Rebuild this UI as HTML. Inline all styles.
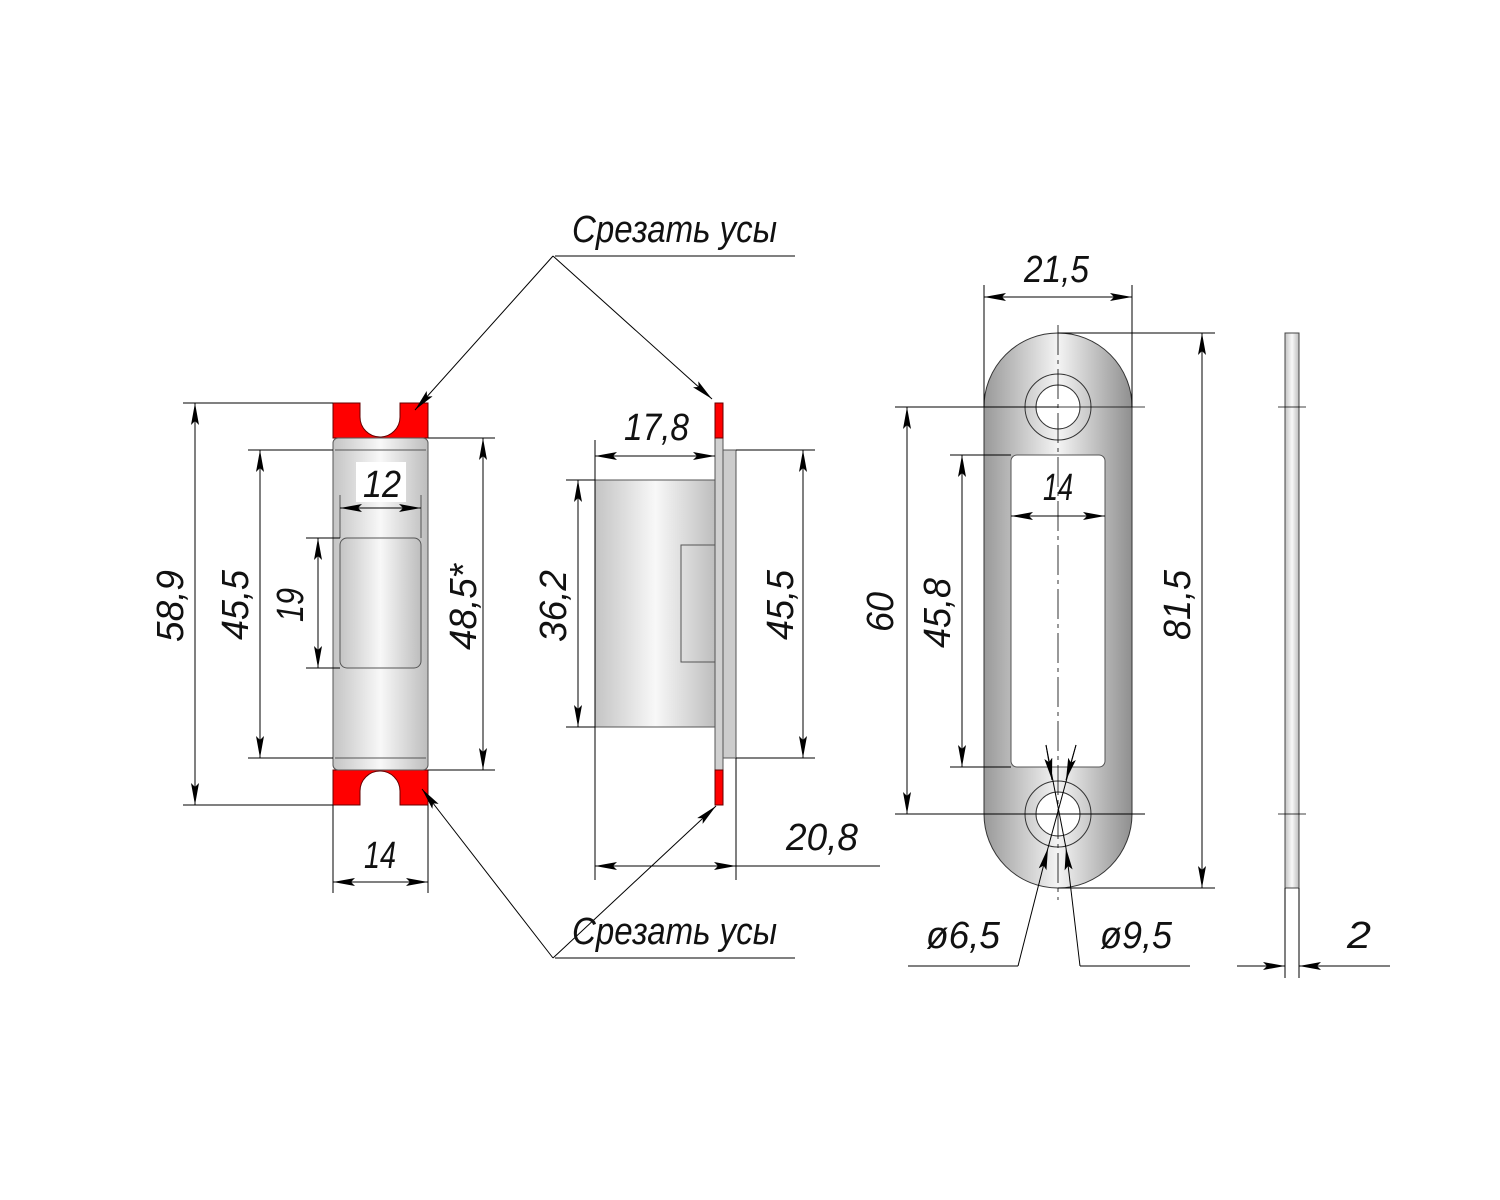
<!DOCTYPE html>
<html><head><meta charset="utf-8"><style>html,body{margin:0;padding:0;background:#fff}svg{display:block}
text{font-family:"Liberation Sans",sans-serif;font-style:italic;font-size:38px;fill:#111}</style></head>
<body>
<svg width="1500" height="1200" viewBox="0 0 1500 1200" xmlns="http://www.w3.org/2000/svg">
<defs>
<marker id="a" viewBox="0 0 22 8" refX="22" refY="4" markerWidth="22" markerHeight="8" markerUnits="userSpaceOnUse" orient="auto-start-reverse"><path d="M0,0 L22,4 L0,8 L4,4 Z" fill="#000"/></marker>
<linearGradient id="g" x1="0" x2="1" y1="0" y2="0"><stop offset="0" stop-color="#c4c4c4"/><stop offset="0.5" stop-color="#f8f8f8"/><stop offset="1" stop-color="#bdbdbd"/></linearGradient>
<linearGradient id="g2" x1="0" x2="1" y1="0" y2="0"><stop offset="0" stop-color="#999"/><stop offset="0.5" stop-color="#f4f4f4"/><stop offset="1" stop-color="#8f8f8f"/></linearGradient>
</defs>
<g stroke="#000" stroke-width="1" fill="none">
<path d="M333,403 H360 V417 A20,20 0 0 0 400,417 V403 H428 V438 H333 Z" fill="#f00" stroke="#600"/>
<path d="M333,805 H360 V791 A20,20 0 0 1 400,791 V805 H428 V770 H333 Z" fill="#f00" stroke="#600"/>
<rect x="333" y="438" width="95" height="332" rx="5" fill="url(#g)" stroke="#555"/>
<line x1="335" y1="450" x2="426" y2="450" stroke="#555"/>
<line x1="335" y1="758" x2="426" y2="758" stroke="#555"/>
<rect x="340" y="538" width="81" height="130" rx="7" fill="url(#g)" stroke="#555"/>
<rect x="356" y="462" width="50" height="40" fill="#fff" stroke="none"/>
<line x1="340" y1="495" x2="340" y2="538" stroke="#555"/><line x1="421" y1="495" x2="421" y2="538" stroke="#555"/>
<line x1="340" y1="508" x2="421" y2="508" marker-start="url(#a)" marker-end="url(#a)"/>
<line x1="183" y1="403" x2="333" y2="403"/><line x1="183" y1="805" x2="333" y2="805"/>
<line x1="195" y1="403" x2="195" y2="805" marker-start="url(#a)" marker-end="url(#a)"/>
<line x1="248" y1="450" x2="333" y2="450"/><line x1="248" y1="758" x2="333" y2="758"/>
<line x1="260" y1="450" x2="260" y2="758" marker-start="url(#a)" marker-end="url(#a)"/>
<line x1="306" y1="538" x2="340" y2="538"/><line x1="306" y1="668" x2="340" y2="668"/>
<line x1="318" y1="538" x2="318" y2="668" marker-start="url(#a)" marker-end="url(#a)"/>
<line x1="428" y1="438" x2="495" y2="438"/><line x1="428" y1="770" x2="495" y2="770"/>
<line x1="483" y1="438" x2="483" y2="770" marker-start="url(#a)" marker-end="url(#a)"/>
<line x1="333" y1="805" x2="333" y2="893"/><line x1="428" y1="805" x2="428" y2="893"/>
<line x1="333" y1="882" x2="428" y2="882" marker-start="url(#a)" marker-end="url(#a)"/>
<rect x="595" y="480" width="121" height="247" fill="url(#g)" stroke="#555"/>
<rect x="681" y="545" width="35" height="117" stroke="#555"/>
<rect x="723" y="450" width="13" height="308" fill="#ccc" stroke="#555"/>
<rect x="715" y="438" width="8" height="332" fill="#d0d0d0" stroke="#555"/>
<rect x="715" y="403" width="8" height="35" fill="#f00" stroke="#600"/>
<rect x="715" y="770" width="8" height="35" fill="#f00" stroke="#600"/>
<line x1="595" y1="440" x2="595" y2="880"/><line x1="736" y1="758" x2="736" y2="880"/>
<line x1="595" y1="456" x2="715" y2="456" marker-start="url(#a)" marker-end="url(#a)"/>
<line x1="566" y1="480" x2="595" y2="480"/><line x1="566" y1="727" x2="595" y2="727"/>
<line x1="578" y1="480" x2="578" y2="727" marker-start="url(#a)" marker-end="url(#a)"/>
<line x1="736" y1="450" x2="815" y2="450"/><line x1="736" y1="758" x2="815" y2="758"/>
<line x1="803" y1="450" x2="803" y2="758" marker-start="url(#a)" marker-end="url(#a)"/>
<line x1="595" y1="866" x2="736" y2="866" marker-start="url(#a)" marker-end="url(#a)"/>
<line x1="736" y1="866" x2="880" y2="866"/>
<line x1="555" y1="256" x2="795" y2="256"/>
<line x1="553" y1="256" x2="415" y2="410" marker-end="url(#a)"/>
<line x1="553" y1="256" x2="712" y2="399" marker-end="url(#a)"/>
<line x1="555" y1="958" x2="795" y2="958"/>
<line x1="553" y1="958" x2="422" y2="789" marker-end="url(#a)"/>
<line x1="553" y1="958" x2="716" y2="806" marker-end="url(#a)"/>
<rect x="984" y="333" width="148" height="555" rx="74" fill="url(#g2)" stroke="#333"/>
<rect x="1011" y="455" width="94" height="312" rx="6" fill="#fff" stroke="#555"/>
<circle cx="1058" cy="407" r="33" stroke="#333"/><circle cx="1058" cy="407" r="22" fill="#fff" stroke="#333"/>
<circle cx="1058" cy="814" r="33" stroke="#333"/><circle cx="1058" cy="814" r="22" fill="#fff" stroke="#333"/>
<line x1="1058" y1="325" x2="1058" y2="900" stroke-dasharray="30,5,4,5" stroke-width="0.8"/>
<line x1="980" y1="407" x2="1145" y2="407" stroke-width="0.8"/>
<line x1="984" y1="285" x2="984" y2="407"/><line x1="1132" y1="285" x2="1132" y2="407"/>
<line x1="984" y1="297" x2="1132" y2="297" marker-start="url(#a)" marker-end="url(#a)"/>
<line x1="1058" y1="333" x2="1215" y2="333"/><line x1="1058" y1="888" x2="1215" y2="888"/>
<line x1="1202" y1="333" x2="1202" y2="888" marker-start="url(#a)" marker-end="url(#a)"/>
<line x1="895" y1="407" x2="1058" y2="407"/><line x1="895" y1="814" x2="1145" y2="814"/>
<line x1="907" y1="407" x2="907" y2="814" marker-start="url(#a)" marker-end="url(#a)"/>
<line x1="950" y1="455" x2="1011" y2="455"/><line x1="950" y1="767" x2="1011" y2="767"/>
<line x1="962" y1="455" x2="962" y2="767" marker-start="url(#a)" marker-end="url(#a)"/>
<line x1="1011" y1="516" x2="1105" y2="516" marker-start="url(#a)" marker-end="url(#a)"/>
<line x1="908" y1="966" x2="1018" y2="966"/><line x1="1018" y1="966" x2="1048" y2="848" marker-end="url(#a)"/>
<line x1="1048" y1="848" x2="1076" y2="745"/><line x1="1076" y1="745" x2="1066" y2="780" marker-end="url(#a)"/>
<line x1="1190" y1="966" x2="1080" y2="966"/><line x1="1080" y1="966" x2="1066" y2="848" marker-end="url(#a)"/>
<line x1="1066" y1="848" x2="1046" y2="745"/><line x1="1046" y1="745" x2="1052" y2="780" marker-end="url(#a)"/>
<rect x="1285" y="333" width="14" height="555" fill="url(#g)" stroke="#444"/>
<line x1="1278" y1="407" x2="1306" y2="407" stroke-width="0.8"/><line x1="1278" y1="814" x2="1306" y2="814" stroke-width="0.8"/>
<line x1="1285" y1="888" x2="1285" y2="978"/><line x1="1299" y1="888" x2="1299" y2="978"/>
<line x1="1237" y1="966" x2="1285" y2="966" marker-end="url(#a)"/>
<line x1="1390" y1="966" x2="1299" y2="966" marker-end="url(#a)"/>
</g>
<g>
<text x="572" y="242" textLength="205" lengthAdjust="spacingAndGlyphs">Срезать усы</text>
<text x="572" y="944" textLength="205" lengthAdjust="spacingAndGlyphs">Срезать усы</text>
<text transform="translate(183,642) rotate(-90)" textLength="72" lengthAdjust="spacingAndGlyphs">58,9</text>
<text transform="translate(248,640) rotate(-90)" textLength="70" lengthAdjust="spacingAndGlyphs">45,5</text>
<text transform="translate(303,622) rotate(-90)" textLength="34" lengthAdjust="spacingAndGlyphs">19</text>
<text transform="translate(476,650) rotate(-90)" textLength="86" lengthAdjust="spacingAndGlyphs">48,5*</text>
<text x="363" y="497" textLength="38" lengthAdjust="spacingAndGlyphs">12</text>
<text x="364" y="868" textLength="32" lengthAdjust="spacingAndGlyphs">14</text>
<text x="624" y="440" textLength="65" lengthAdjust="spacingAndGlyphs">17,8</text>
<text transform="translate(566,642) rotate(-90)" textLength="72" lengthAdjust="spacingAndGlyphs">36,2</text>
<text transform="translate(793,640) rotate(-90)" textLength="70" lengthAdjust="spacingAndGlyphs">45,5</text>
<text x="786" y="850" textLength="72" lengthAdjust="spacingAndGlyphs">20,8</text>
<text x="1024" y="282" textLength="65" lengthAdjust="spacingAndGlyphs">21,5</text>
<text transform="translate(1190,640) rotate(-90)" textLength="70" lengthAdjust="spacingAndGlyphs">81,5</text>
<text transform="translate(893,632) rotate(-90)" textLength="40" lengthAdjust="spacingAndGlyphs">60</text>
<text transform="translate(950,648) rotate(-90)" textLength="70" lengthAdjust="spacingAndGlyphs">45,8</text>
<text x="1043" y="500" textLength="30" lengthAdjust="spacingAndGlyphs">14</text>
<text x="926" y="948" textLength="74" lengthAdjust="spacingAndGlyphs">ø6,5</text>
<text x="1100" y="948" textLength="72" lengthAdjust="spacingAndGlyphs">ø9,5</text>
<text x="1347" y="948" textLength="24" lengthAdjust="spacingAndGlyphs">2</text>
</g>
</svg>
</body></html>
